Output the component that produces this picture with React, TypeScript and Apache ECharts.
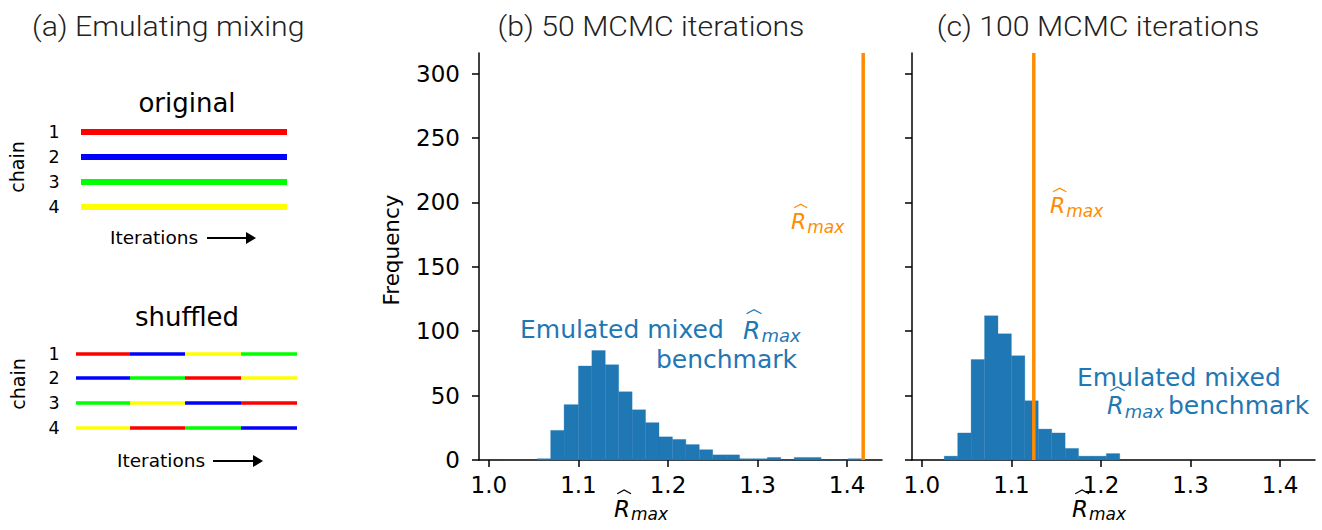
import React, { useEffect, useRef } from "react";
import * as echarts from "echarts";

// ---------- data ----------
const xTicks = [1.0, 1.1, 1.2, 1.3, 1.4];
const yTicks = [0, 50, 100, 150, 200, 250, 300];
const xMin = 0.989;
const xMax = 1.439;
const yMax = 316;

const edges50 = [1.054, 1.069, 1.084, 1.1, 1.115, 1.13, 1.145, 1.16, 1.175, 1.19, 1.205, 1.22, 1.235, 1.25, 1.265, 1.28, 1.296, 1.311, 1.326, 1.341, 1.356, 1.371, 1.386, 1.401, 1.416];
const counts50 = [1, 23, 43, 73, 85, 74, 53, 39, 29, 18, 16, 12, 8, 4, 4, 1, 1, 2, 0, 2, 2, 0, 0, 1];
const rmax50 = 1.418;

const edges100 = [1.025, 1.04, 1.055, 1.07, 1.085, 1.1, 1.115, 1.13, 1.145, 1.16, 1.175, 1.19, 1.206, 1.221];
const counts100 = [3, 21, 78, 112, 98, 81, 46, 24, 21, 9, 3, 3, 5];
const rmax100 = 1.125;

const titles = ["(a) Emulating mixing", "(b) 50 MCMC iterations", "(c) 100 MCMC iterations"];
const chainIds = ["1", "2", "3", "4"];
const originalColors = ["#ff0000", "#0000ff", "#00ff00", "#ffff00"];
const shuffledColors = [
  ["#ff0000", "#0000ff", "#ffff00", "#00ff00"],
  ["#0000ff", "#00ff00", "#ff0000", "#ffff00"],
  ["#00ff00", "#ffff00", "#0000ff", "#ff0000"],
  ["#ffff00", "#ff0000", "#00ff00", "#0000ff"],
];

const BLUE = "#1f77b4";
const ORANGE = "#ff8c00";
const DV = "DejaVu Sans";

// ---------- helpers ----------
const txt = (text: string, x: number, y: number, size: number, o: any = {}) => ({
  type: "text",
  x,
  y,
  rotation: o.rot || 0,
  scaleX: o.sx || 1,
  silent: true,
  style: {
    text,
    fontSize: size,
    lineHeight: size,
    fontFamily: o.family || DV,
    fontWeight: o.weight || "normal",
    fontStyle: o.italic ? "italic" : "normal",
    fill: o.fill || "#000",
    align: o.align || "left",
    verticalAlign: "middle",
  },
});

// R-hat with "max" subscript, positioned by left x and baseline
const rhat = (x: number, base: number, s: number, sub: number, color: string) => [
  txt("R", x, base - 0.32 * s, s, { italic: true, fill: color }),
  txt("max", x + 0.74 * s, base + 0.15 * s - 0.32 * sub, sub, { italic: true, fill: color }),
  {
    type: "polyline",
    silent: true,
    shape: {
      points: [
        [x + 0.14 * s, base - 0.97 * s],
        [x + 0.44 * s, base - 1.13 * s],
        [x + 0.74 * s, base - 0.97 * s],
      ],
    },
    style: { stroke: color, lineWidth: 1.2, fill: null },
  },
];

const arrow = (x0: number, x1: number, y: number) => [
  { type: "line", silent: true, shape: { x1: x0, y1: y, x2: x1 - 8, y2: y }, style: { stroke: "#000", lineWidth: 2 } },
  {
    type: "polygon",
    silent: true,
    shape: { points: [[x1 - 10, y - 6], [x1, y], [x1 - 10, y + 6]] },
    style: { fill: "#000" },
  },
];

const histSeries = (edges: number[], counts: number[], idx: number) => ({
  type: "custom",
  xAxisIndex: idx,
  yAxisIndex: idx,
  z: 2,
  silent: true,
  encode: { x: [0, 1], y: 2 },
  data: counts.map((c, i) => [edges[i], edges[i + 1], c]),
  renderItem: (_p: any, api: any) => {
    const a = api.coord([api.value(0), api.value(2)]);
    const b = api.coord([api.value(1), 0]);
    return {
      type: "rect",
      shape: { x: a[0], y: a[1], width: b[0] - a[0], height: b[1] - a[1] },
      style: { fill: BLUE, stroke: BLUE, lineWidth: 0.3 },
    };
  },
});

const vline = (v: number, idx: number) => ({
  type: "line",
  xAxisIndex: idx,
  yAxisIndex: idx,
  z: 5,
  silent: true,
  symbol: "none",
  data: [
    [v, 0],
    [v, yMax],
  ],
  lineStyle: { color: ORANGE, width: 3.5 },
});

const axisStyle = { color: "#000", width: 1.5 };

const makeX = (idx: number) => ({
  type: "value",
  gridIndex: idx,
  min: xMin,
  max: xMax,
  axisLine: { show: true, onZero: false, lineStyle: axisStyle },
  axisTick: { show: true, length: 7, lineStyle: axisStyle, customValues: xTicks },
  axisLabel: {
    customValues: xTicks,
    formatter: (v: number) => v.toFixed(1),
    fontSize: 23,
    fontFamily: DV,
    color: "#000",
    margin: 13,
  },
  splitLine: { show: false },
});

const makeY = (idx: number, labels: boolean) => ({
  type: "value",
  gridIndex: idx,
  min: 0,
  max: yMax,
  axisLine: { show: true, lineStyle: axisStyle },
  axisTick: { show: true, length: 7, lineStyle: axisStyle, customValues: yTicks },
  axisLabel: {
    show: labels,
    customValues: yTicks,
    fontSize: 23,
    fontFamily: DV,
    color: "#000",
    margin: 19,
  },
  splitLine: { show: false },
});

function buildGraphic() {
  const g: any[] = [];
  const tOpt = { family: "Roboto", weight: 300, fill: "#222", sx: 1.12 };
  // titles
  g.push(txt(titles[0], 32, 27, 27, tOpt));
  g.push(txt(titles[1], 651, 27, 27, { ...tOpt, align: "center" }));
  g.push(txt(titles[2], 1098, 27, 27, { ...tOpt, align: "center" }));

  // (a) original
  g.push(txt("original", 187, 103, 26, { align: "center" }));
  const oy = [132, 157, 182, 207];
  oy.forEach((y, i) => {
    g.push(txt(chainIds[i], 54, y, 17.5, { align: "center" }));
    g.push({ type: "line", silent: true, shape: { x1: 81, y1: y, x2: 287, y2: y }, style: { stroke: originalColors[i], lineWidth: 6 } });
  });
  g.push(txt("chain", 17, 167, 19, { align: "center", rot: Math.PI / 2 }));
  g.push(txt("Iterations", 110, 237, 18.5));
  g.push(...arrow(207, 256, 238));

  // (a) shuffled
  g.push(txt("shuffled", 187, 317, 26, { align: "center" }));
  const sy = [354, 378, 403, 428];
  const sx = [76, 130, 185, 241, 297];
  sy.forEach((y, i) => {
    g.push(txt(chainIds[i], 54, y, 17.5, { align: "center" }));
    for (let k = 0; k < 4; k++) {
      g.push({ type: "line", silent: true, shape: { x1: sx[k], y1: y, x2: sx[k + 1], y2: y }, style: { stroke: shuffledColors[i][k], lineWidth: 3.3 } });
    }
  });
  g.push(txt("chain", 18, 384, 19, { align: "center", rot: Math.PI / 2 }));
  g.push(txt("Iterations", 117, 460, 18.5));
  g.push(...arrow(213, 263, 461));

  // y-axis name
  g.push(txt("Frequency", 391, 250, 21.5, { align: "center", rot: Math.PI / 2 }));

  // x-axis names
  g.push(...rhat(614, 516, 23, 17, "#000"));
  g.push(...rhat(1072, 516, 23, 17, "#000"));

  // orange labels
  g.push(...rhat(791, 229, 22, 17, ORANGE));
  g.push(...rhat(1050, 213, 22, 17, ORANGE));

  // blue annotations (b)
  g.push(txt("Emulated mixed", 520, 337 - 0.32 * 25, 25, { fill: BLUE }));
  g.push(...rhat(743, 338, 25, 18, BLUE));
  g.push(txt("benchmark", 797, 367 - 0.32 * 25, 25, { fill: BLUE, align: "right" }));

  // blue annotations (c)
  g.push(txt("Emulated mixed", 1077, 385.5 - 0.32 * 25, 25, { fill: BLUE }));
  g.push(...rhat(1107, 414, 24, 18, BLUE));
  g.push(txt("benchmark", 1168, 413 - 0.32 * 25, 25, { fill: BLUE }));
  return g;
}

export default function App() {
  const ref = useRef<HTMLDivElement>(null);
  useEffect(() => {
    document.body.style.margin = "0";
    const chart = echarts.init(ref.current!, null, { renderer: "svg" });
    chart.setOption({
      animation: false,
      backgroundColor: "#fff",
      grid: [
        { left: 479, top: 53, width: 403, height: 407 },
        { left: 912, top: 53, width: 403, height: 407 },
      ],
      xAxis: [makeX(0), makeX(1)],
      yAxis: [makeY(0, true), makeY(1, false)],
      series: [histSeries(edges50, counts50, 0), histSeries(edges100, counts100, 1), vline(rmax50, 0), vline(rmax100, 1)],
      graphic: { elements: buildGraphic() },
    });
    return () => chart.dispose();
  }, []);
  return <div ref={ref} style={{ width: 1322, height: 530 }} />;
}
